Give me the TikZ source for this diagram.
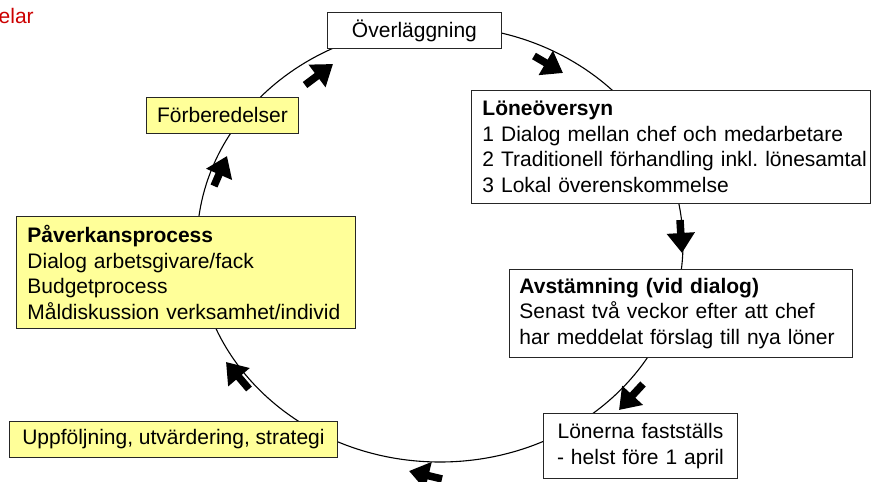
\documentclass[tikz,border=0pt]{standalone}
\usepackage{fontspec}
\setmainfont{Liberation Sans}
\usetikzlibrary{arrows.meta}
\definecolor{yellowbox}{HTML}{FFFF99}
\definecolor{elarred}{HTML}{CC0000}
\frenchspacing
\begin{document}
\begin{tikzpicture}[x=1pt,y=-1pt,
  box/.style={draw=black!85, line width=0.9pt, fill=white, inner sep=0pt,
    font=\fontsize{21}{25.5}\selectfont, anchor=north west},
  yel/.style={fill=yellowbox},
  blockarrow/.style={line width=7.5pt, -{Triangle[length=20pt,width=27pt]}, black},
  circ/.style={line width=1.1pt, black}]
\useasboundingbox (0,0) rectangle (871,482);
% cycle
\draw[circ] (440,244) ellipse [x radius=243pt, y radius=218pt];
% red fragment
\node[anchor=base west, text=elarred, font=\fontsize{21}{22}\selectfont, inner sep=0pt] (elar) at (-1.5,23) {elar};
% boxes
\node[box, minimum width=174pt, minimum height=36pt] (ov) at (327,12) {Överläggning};
\node[box, minimum width=399pt, minimum height=113pt, text width=377pt, inner xsep=11pt, align=left] (lon) at (471,90)
  {\textbf{Löneöversyn}\\\mbox{1 Dialog mellan chef och medarbetare}\\\mbox{2 Traditionell förhandling inkl. lönesamtal}\\\mbox{3 Lokal överenskommelse}};
\node[box, minimum width=343pt, minimum height=88pt, text width=323pt, inner xsep=10pt, align=left] (avs) at (509,269)
  {\textbf{Avstämning (vid dialog)}\\Senast två veckor efter att chef\\har meddelat förslag till nya löner};
\node[box, minimum width=194pt, minimum height=65pt, text width=180pt, inner xsep=7pt, align=center] (fast) at (543,413)
  {Lönerna fastställs\\- helst före 1 april};
\node[box, yel, minimum width=328pt, minimum height=36pt] (upp) at (9,421) {Uppföljning, utvärdering, strategi};
\node[box, yel, minimum width=339pt, minimum height=112pt, text width=317pt, inner xsep=11pt, align=left] (pav) at (16,216)
  {\textbf{Påverkansprocess}\\Dialog arbetsgivare/fack\\Budgetprocess\\Måldiskussion verksamhet/individ};
\node[box, yel, minimum width=152pt, minimum height=36pt] (forb) at (146,97) {Förberedelser};
% block arrows
\draw[blockarrow] (305,85) -- (333,64);
\draw[blockarrow] (534,56) -- (563,73);
\draw[blockarrow] (680,220) -- (682,253);
\draw[blockarrow] (643,384) -- (619,410);
\draw[blockarrow] (442,479) -- (409,471);
\draw[blockarrow] (249,389) -- (226,362);
\draw[blockarrow] (214,186) -- (227,156);
\end{tikzpicture}
\end{document}
